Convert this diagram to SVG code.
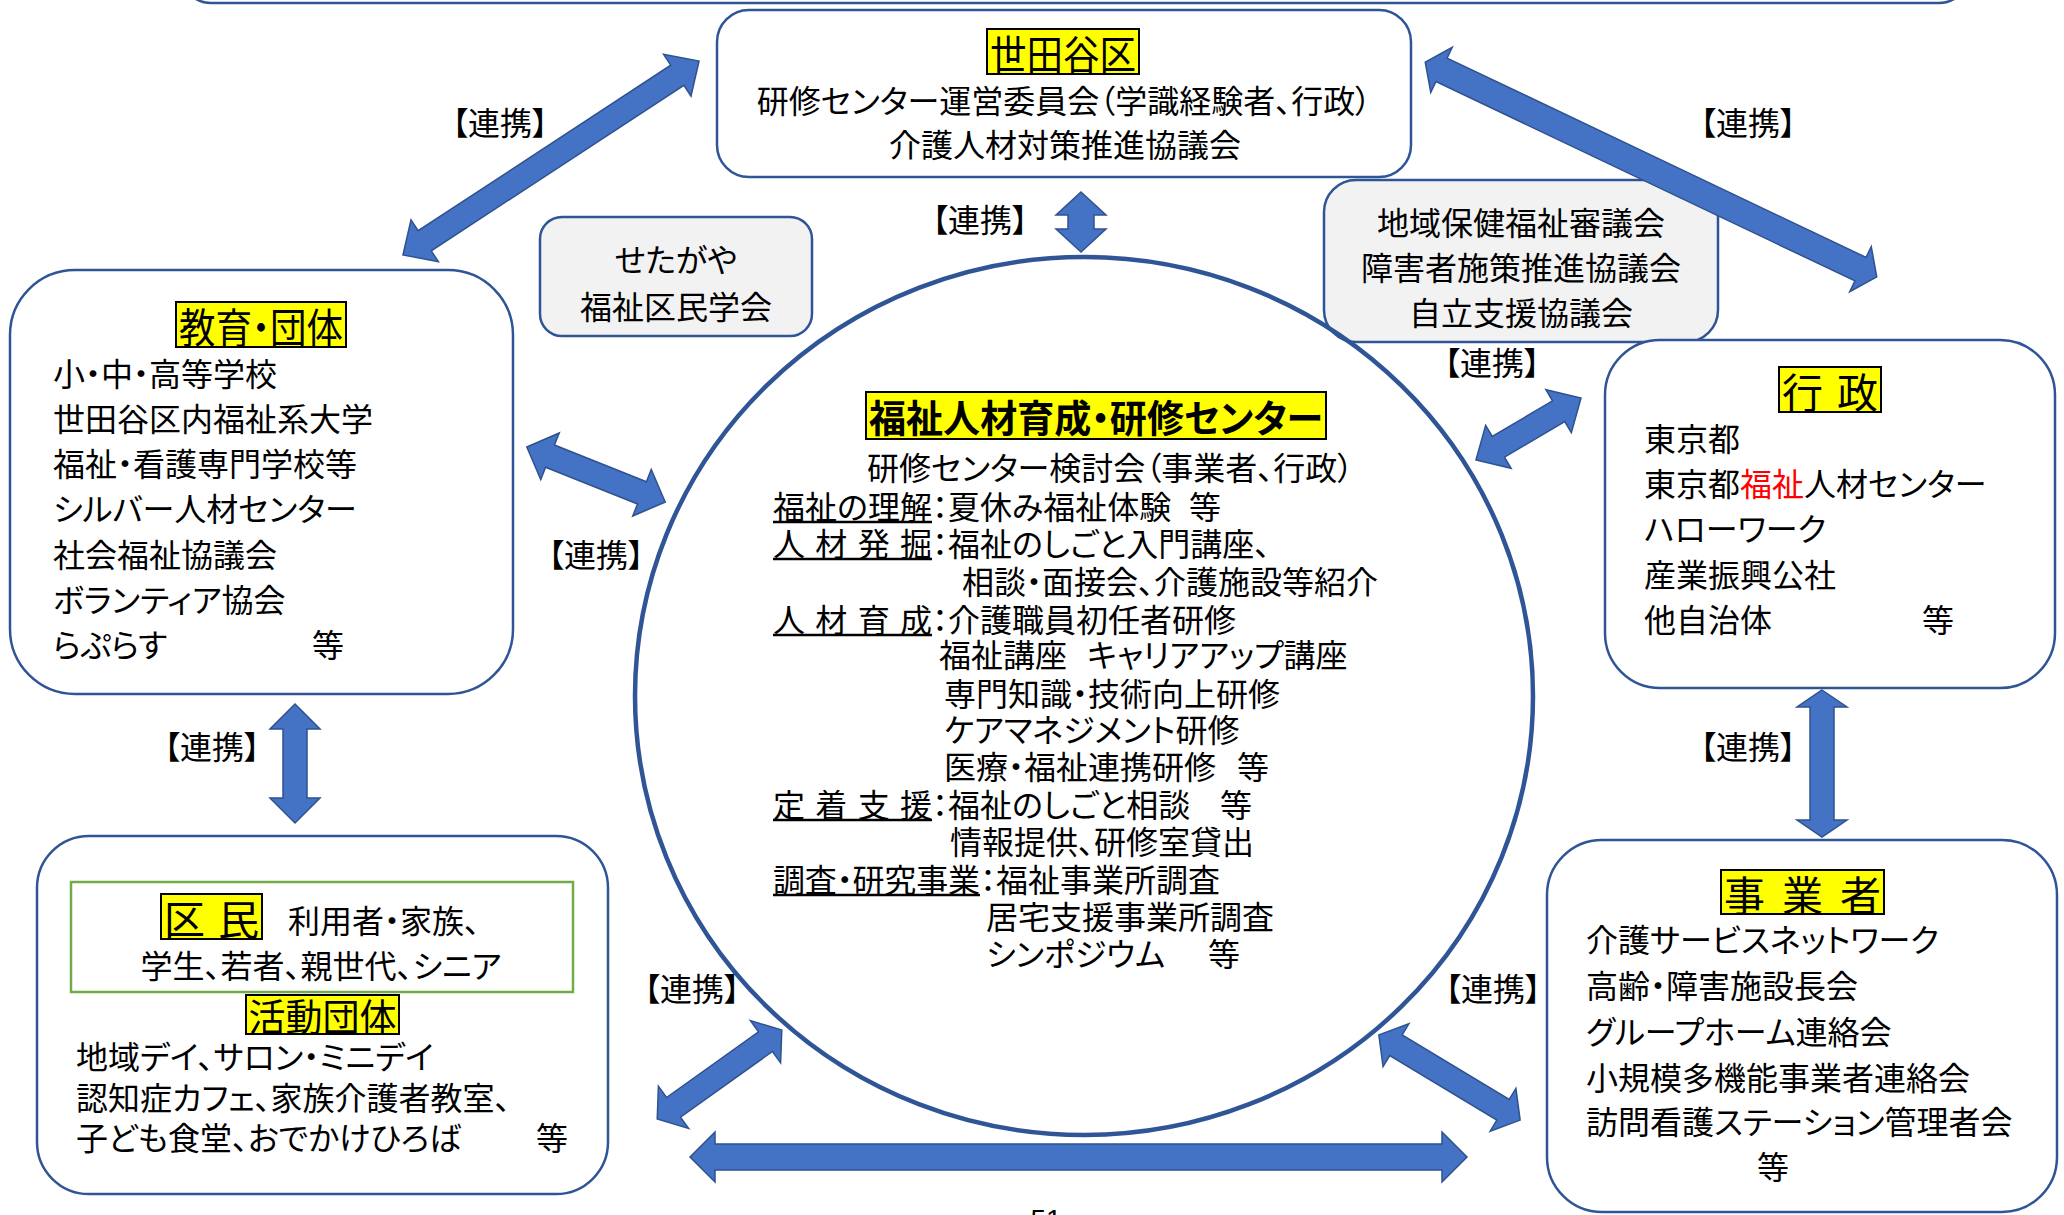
<svg xmlns="http://www.w3.org/2000/svg" width="2064" height="1215" viewBox="0 0 2064 1215">
<style>
.t{font-family:"Noto Sans CJK JP","Noto Sans CJK SC",sans-serif;font-size:32px;fill:#000;font-feature-settings:"palt" 1;dominant-baseline:central}
.c{text-anchor:middle}
.h{font-size:41px}
.b{font-weight:bold;font-size:38px}
.box{fill:#fff;stroke:#2F5597;stroke-width:2.5}
.gbox{fill:#F2F2F2;stroke:#2F5597;stroke-width:2.5}
.hl{fill:#FFFF00;stroke:#000;stroke-width:2}
.arr{fill:#4472C4;stroke:#2F528F;stroke-width:1.5}
.ul{stroke:#000;stroke-width:2.5}
.pg{font-family:"Liberation Sans",Arial,sans-serif;font-size:28px;fill:#000}
</style>
<rect width="2064" height="1215" fill="#fff"/>

<g id="top-box"><rect class="box" x="181" y="-100" width="1788" height="103" rx="30"/></g>

<g id="setagaya">
<rect class="box" x="717" y="10" width="694" height="167" rx="32"/>
<rect class="hl" x="987" y="29" width="152" height="45"/>
<text class="t c h" x="1063" y="52" textLength="146" lengthAdjust="spacingAndGlyphs">世田谷区</text>
<text class="t c" x="1064" y="99">研修センター運営委員会（学識経験者、行政）</text>
<text class="t c" x="1065" y="143">介護人材対策推進協議会</text>
</g>

<g id="gakkai">
<rect class="gbox" x="540" y="217" width="272" height="119" rx="22"/>
<text class="t c" x="676" y="258">せたがや</text>
<text class="t c" x="676" y="305">福祉区民学会</text>
</g>

<g id="shingikai">
<rect class="gbox" x="1324" y="180" width="394" height="162" rx="32"/>
<text class="t c" x="1521" y="221">地域保健福祉審議会</text>
<text class="t c" x="1521" y="266">障害者施策推進協議会</text>
<text class="t c" x="1521" y="311">自立支援協議会</text>
</g>

<g id="kyoiku">
<rect class="box" x="10" y="270" width="503" height="424" rx="65"/>
<rect class="hl" x="176" y="302" width="170" height="45"/>
<text class="t c h" x="261" y="325" textLength="164" lengthAdjust="spacingAndGlyphs">教育・団体</text>
<text class="t" x="53" y="372">小・中・高等学校</text>
<text class="t" x="53" y="417">世田谷区内福祉系大学</text>
<text class="t" x="53" y="462">福祉・看護専門学校等</text>
<text class="t" x="53" y="507">シルバー人材センター</text>
<text class="t" x="53" y="553">社会福祉協議会</text>
<text class="t" x="53" y="598">ボランティア協会</text>
<text class="t" x="53" y="643">らぷらす <tspan x="312">等</tspan></text>
</g>

<g id="gyosei">
<rect class="box" x="1605" y="340" width="450" height="348" rx="55"/>
<rect class="hl" x="1779" y="367" width="102" height="45"/>
<text class="t c h" x="1830" y="390" textLength="96" lengthAdjust="spacing">行　政</text>
<text class="t" x="1644" y="437">東京都</text>
<text class="t" x="1644" y="482">東京都<tspan fill="#FF0000">福祉</tspan>人材センター</text>
<text class="t" x="1644" y="527">ハローワーク</text>
<text class="t" x="1644" y="573">産業振興公社</text>
<text class="t" x="1644" y="618">他自治体 <tspan x="1922">等</tspan></text>
</g>

<g id="jigyosha">
<rect class="box" x="1547" y="840" width="510" height="372" rx="55"/>
<rect class="hl" x="1721" y="870" width="163" height="44"/>
<text class="t c h" x="1802.5" y="892.5" textLength="157" lengthAdjust="spacing">事　業　者</text>
<text class="t" x="1586" y="938">介護サービスネットワーク</text>
<text class="t" x="1586" y="984">高齢・障害施設長会</text>
<text class="t" x="1586" y="1030">グループホーム連絡会</text>
<text class="t" x="1586" y="1076">小規模多機能事業者連絡会</text>
<text class="t" x="1586" y="1120">訪問看護ステーション管理者会</text>
<text class="t c" x="1773" y="1165">等</text>
</g>

<g id="kumin">
<rect class="box" x="37" y="836" width="571" height="358" rx="52"/>
<rect x="71" y="882" width="502" height="110" fill="none" stroke="#70AD47" stroke-width="2.5"/>
<rect class="hl" x="161" y="894" width="101" height="45"/>
<text class="t c h" x="211.5" y="917" textLength="95" lengthAdjust="spacing">区　民</text>
<text class="t" x="288" y="919">利用者・家族、</text>
<text class="t c" x="321" y="964">学生、若者、親世代、シニア</text>
<rect class="hl" x="246" y="995" width="153" height="39"/>
<text class="t c h" x="322.5" y="1014.5" textLength="148" lengthAdjust="spacingAndGlyphs" style="font-size:38px">活動団体</text>
<text class="t" x="76" y="1055">地域デイ、サロン・ミニデイ</text>
<text class="t" x="76" y="1096">認知症カフェ、家族介護者教室、</text>
<text class="t" x="76" y="1136">子ども食堂、おでかけひろば <tspan x="536">等</tspan></text>
</g>

<g id="center">
<ellipse cx="1084" cy="696" rx="449" ry="439" fill="none" stroke="#2F5597" stroke-width="4.5"/>
<rect class="hl" x="866" y="392" width="460" height="47"/>
<text class="t c b" x="1096" y="415.5" textLength="454" lengthAdjust="spacingAndGlyphs">福祉人材育成・研修センター</text>
<text class="t" x="867" y="466">研修センター検討会（事業者、行政）</text>
<text class="t" x="773" y="505" textLength="159" lengthAdjust="spacing">福祉の理解</text>
<text class="t" x="932" y="505">：夏休み福祉体験 <tspan x="1189">等</tspan></text>
<text class="t" x="773" y="542" textLength="159" lengthAdjust="spacing">人 材 発 掘</text>
<text class="t" x="932" y="542">：福祉のしごと入門講座、</text>
<text class="t" x="962" y="580">相談・面接会、介護施設等紹介</text>
<text class="t" x="773" y="618" textLength="159" lengthAdjust="spacing">人 材 育 成</text>
<text class="t" x="932" y="618">：介護職員初任者研修</text>
<text class="t" x="939" y="653">福祉講座 <tspan x="1087">キャリアアップ講座</tspan></text>
<text class="t" x="944" y="692">専門知識・技術向上研修</text>
<text class="t" x="944" y="728">ケアマネジメント研修</text>
<text class="t" x="944" y="765">医療・福祉連携研修 <tspan x="1237">等</tspan></text>
<text class="t" x="773" y="803" textLength="159" lengthAdjust="spacing">定 着 支 援</text>
<text class="t" x="932" y="803">：福祉のしごと相談 <tspan x="1220">等</tspan></text>
<text class="t" x="950" y="840">情報提供、研修室貸出</text>
<text class="t" x="773" y="878" textLength="207" lengthAdjust="spacing">調査・研究事業</text>
<text class="t" x="980" y="878">：福祉事業所調査</text>
<text class="t" x="986" y="915">居宅支援事業所調査</text>
<text class="t" x="986" y="952">シンポジウム <tspan x="1208">等</tspan></text>
<line class="ul" x1="773" y1="522" x2="932" y2="522"/>
<line class="ul" x1="773" y1="559" x2="932" y2="559"/>
<line class="ul" x1="773" y1="635" x2="932" y2="635"/>
<line class="ul" x1="773" y1="820" x2="932" y2="820"/>
<line class="ul" x1="773" y1="895" x2="980" y2="895"/>
</g>

<g id="connectors">
<polygon class="arr" points="-177,0 -151,-25 -151,-12 151,-12 151,-25 177,0 151,25 151,12 -151,12 -151,25" transform="translate(551,158) rotate(-33.24)"/>
<polygon class="arr" points="-30,0 -7,-25 -7,-13 7,-13 7,-25 30,0 7,25 7,13 -7,13 -7,25" transform="translate(1081,222) rotate(90)"/>
<polygon class="arr" points="-250,0 -232,-25 -232,-13 232,-13 232,-25 250,0 232,25 232,13 -232,13 -232,25" transform="translate(1651,169.5) rotate(25.44)"/>
<polygon class="arr" points="-74.5,0 -49.5,-25 -49.5,-12 49.5,-12 49.5,-25 74.5,0 49.5,25 49.5,12 -49.5,12 -49.5,25" transform="translate(596,474.5) rotate(21.7)"/>
<polygon class="arr" points="-61,0 -35,-25 -35,-12 35,-12 35,-25 61,0 35,25 35,12 -35,12 -35,25" transform="translate(1528.5,429) rotate(-30.6)"/>
<polygon class="arr" points="-59.5,0 -34.5,-25 -34.5,-12 34.5,-12 34.5,-25 59.5,0 34.5,25 34.5,12 -34.5,12 -34.5,25" transform="translate(295,763.5) rotate(90)"/>
<polygon class="arr" points="-73.5,0 -56.5,-25 -56.5,-12 56.5,-12 56.5,-25 73.5,0 56.5,25 56.5,12 -56.5,12 -56.5,25" transform="translate(1822,763.5) rotate(90)"/>
<polygon class="arr" points="-388.5,0 -363.5,-25 -363.5,-13 363.5,-13 363.5,-25 388.5,0 363.5,25 363.5,13 -363.5,13 -363.5,25" transform="translate(1078.5,1157)"/>
<polygon class="arr" points="-76.5,0 -56.5,-26 -56.5,-12 56.5,-12 56.5,-26 76.5,0 56.5,26 56.5,12 -56.5,12 -56.5,26" transform="translate(719.5,1074.5) rotate(-35.5)"/>
<polygon class="arr" points="-82.5,0 -62.5,-25 -62.5,-12 62.5,-12 62.5,-25 82.5,0 62.5,25 62.5,12 -62.5,12 -62.5,25" transform="translate(1449.5,1077.5) rotate(31.1)"/>
<text class="t c" x="500" y="121">【連携】</text>
<text class="t c" x="980" y="218">【連携】</text>
<text class="t c" x="1748" y="121">【連携】</text>
<text class="t c" x="1492" y="361">【連携】</text>
<text class="t c" x="596" y="553">【連携】</text>
<text class="t c" x="212" y="745">【連携】</text>
<text class="t c" x="1748" y="745">【連携】</text>
<text class="t c" x="692" y="987">【連携】</text>
<text class="t c" x="1493" y="987">【連携】</text>
</g>

<text class="pg" x="1046" y="1229" text-anchor="middle">51</text>
</svg>
